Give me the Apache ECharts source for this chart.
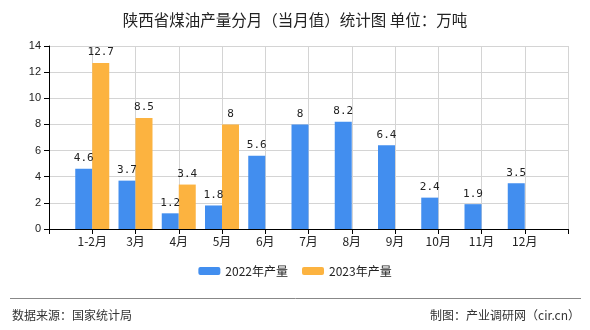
<!DOCTYPE html>
<html><head><meta charset="utf-8">
<script src="https://cdn.jsdelivr.net/npm/echarts@6/dist/echarts.min.js"></script>
<style>html,body{margin:0;padding:0;background:#fff}#c{width:590px;height:330px}</style>
</head><body><div id="c"></div>
<script>
var categories = ['', '1-2月', '3月', '4月', '5月', '6月', '7月', '8月', '9月', '10月', '11月', '12月', ''];
var values2022 = [null, 4.6, 3.7, 1.2, 1.8, 5.6, 8, 8.2, 6.4, 2.4, 1.9, 3.5, null];
var values2023 = [null, 12.7, 8.5, 3.4, 8, null, null, null, null, null, null, null, null];
var yTicks = [0, 2, 4, 6, 8, 10, 12, 14];

var chart = echarts.init(document.getElementById('c'));
var lbl = {show: true, position: 'top', distance: 5, color: '#222', fontSize: 11, fontFamily: 'DejaVu Sans Mono'};
chart.setOption({
  animation: false,
  title: [{
    text: '陕西省煤油产量分月（当月值）统计图 单位：万吨',
    left: 'center', top: 7,
    textStyle: {fontSize: 15.5, fontWeight: 'normal', color: '#222', fontFamily: 'Noto Sans CJK SC'}
  }],
  legend: {
    bottom: 48, left: 'center', itemWidth: 22, itemHeight: 8, itemGap: 14,
    textStyle: {fontSize: 12, color: '#222', fontFamily: 'Noto Sans CJK SC'},
    data: ['2022年产量', '2023年产量']
  },
  grid: {left: 49, right: 22, top: 46, bottom: 101},
  xAxis: {
    type: 'category', data: categories, boundaryGap: false,
    axisLine: {lineStyle: {color: '#000', width: 1}},
    axisTick: {show: true, length: 5, interval: 0, lineStyle: {color: '#000'}},
    axisLabel: {interval: 0, color: '#222', fontSize: 12, margin: 6, fontFamily: 'Noto Sans CJK SC'},
    splitLine: {show: true, interval: 0, lineStyle: {color: '#d4d4d4'}}
  },
  yAxis: {
    type: 'value', min: yTicks[0], max: yTicks[yTicks.length - 1], interval: 2,
    axisLine: {show: true, lineStyle: {color: '#000', width: 1}},
    axisTick: {show: true, length: 5, lineStyle: {color: '#000'}},
    axisLabel: {color: '#222', fontSize: 11, margin: 8},
    splitLine: {show: true, lineStyle: {color: '#d4d4d4'}}
  },
  series: [
    {name: '2022年产量', type: 'bar', data: values2022, barWidth: 17, barGap: '0%',
     itemStyle: {color: '#428EEF'}, label: lbl},
    {name: '2023年产量', type: 'bar', data: values2023, barWidth: 17, barGap: '0%',
     itemStyle: {color: '#FCB340'}, label: lbl}
  ],
  graphic: [
    {type: 'line', shape: {x1: 10, y1: 298.5, x2: 581, y2: 298.5}, style: {stroke: '#888', lineWidth: 1}},
    {type: 'text', left: 12, top: 309, style: {text: '数据来源：国家统计局', fontSize: 12, fill: '#333', fontFamily: 'Noto Sans CJK SC'}},
    {type: 'text', right: 10, top: 309, style: {text: '制图：产业调研网（cir.cn）', fontSize: 12, fill: '#333', fontFamily: 'Noto Sans CJK SC'}}
  ]
});
</script></body></html>
